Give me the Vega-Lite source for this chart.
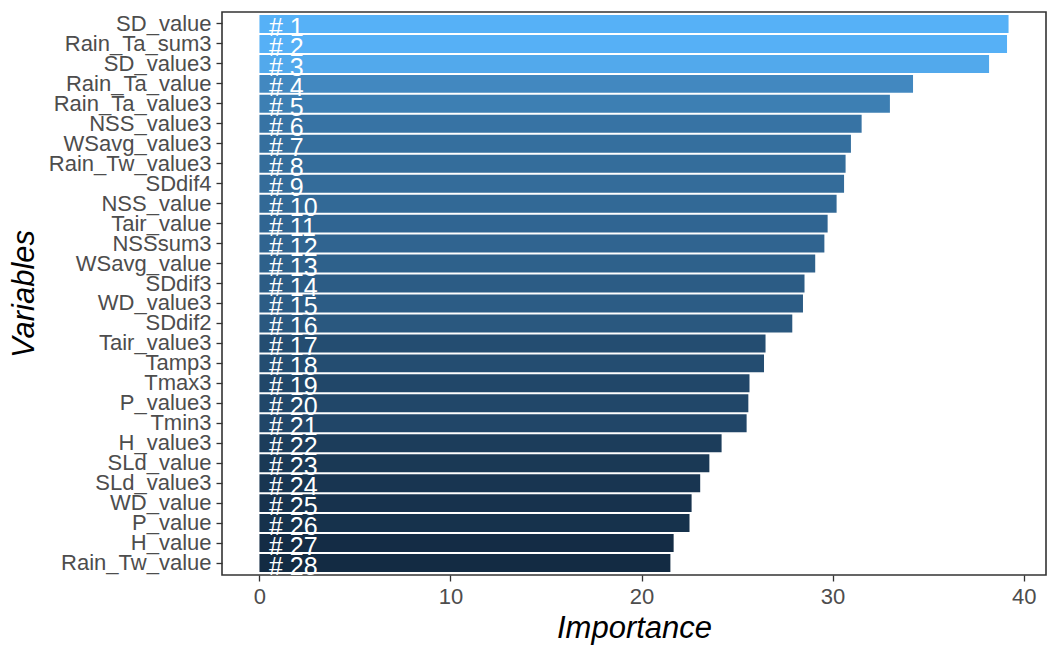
{
  "$schema": "https://vega.github.io/schema/vega-lite/v6.json",
  "width": 824,
  "height": 563,
  "autosize": "none",
  "padding": {"left": 222, "top": 12, "right": 12, "bottom": 82},
  "background": "white",
  "data": {
    "values": [
      {"var": "SD_value", "value": 39.21, "rank": 1, "label": "# 1"},
      {"var": "Rain_Ta_sum3", "value": 39.13, "rank": 2, "label": "# 2"},
      {"var": "SD_value3", "value": 38.19, "rank": 3, "label": "# 3"},
      {"var": "Rain_Ta_value", "value": 34.21, "rank": 4, "label": "# 4"},
      {"var": "Rain_Ta_value3", "value": 33.0, "rank": 5, "label": "# 5"},
      {"var": "NSS_value3", "value": 31.52, "rank": 6, "label": "# 6"},
      {"var": "WSavg_value3", "value": 30.96, "rank": 7, "label": "# 7"},
      {"var": "Rain_Tw_value3", "value": 30.68, "rank": 8, "label": "# 8"},
      {"var": "SDdif4", "value": 30.6, "rank": 9, "label": "# 9"},
      {"var": "NSS_value", "value": 30.21, "rank": 10, "label": "# 10"},
      {"var": "Tair_value", "value": 29.74, "rank": 11, "label": "# 11"},
      {"var": "NSSsum3", "value": 29.57, "rank": 12, "label": "# 12"},
      {"var": "WSavg_value", "value": 29.09, "rank": 13, "label": "# 13"},
      {"var": "SDdif3", "value": 28.53, "rank": 14, "label": "# 14"},
      {"var": "WD_value3", "value": 28.45, "rank": 15, "label": "# 15"},
      {"var": "SDdif2", "value": 27.89, "rank": 16, "label": "# 16"},
      {"var": "Tair_value3", "value": 26.49, "rank": 17, "label": "# 17"},
      {"var": "Tamp3", "value": 26.41, "rank": 18, "label": "# 18"},
      {"var": "Tmax3", "value": 25.65, "rank": 19, "label": "# 19"},
      {"var": "P_value3", "value": 25.59, "rank": 20, "label": "# 20"},
      {"var": "Tmin3", "value": 25.5, "rank": 21, "label": "# 21"},
      {"var": "H_value3", "value": 24.19, "rank": 22, "label": "# 22"},
      {"var": "SLd_value", "value": 23.55, "rank": 23, "label": "# 23"},
      {"var": "SLd_value3", "value": 23.07, "rank": 24, "label": "# 24"},
      {"var": "WD_value", "value": 22.62, "rank": 25, "label": "# 25"},
      {"var": "P_value", "value": 22.51, "rank": 26, "label": "# 26"},
      {"var": "H_value", "value": 21.68, "rank": 27, "label": "# 27"},
      {"var": "Rain_Tw_value", "value": 21.51, "rank": 28, "label": "# 28"}
    ]
  },
  "encoding": {
    "y": {
      "field": "var",
      "type": "nominal",
      "sort": {"field": "rank", "order": "ascending"},
      "scale": {"paddingInner": 0.1, "paddingOuter": 0.15},
      "title": "Variables",
      "axis": {"titlePadding": 8}
    }
  },
  "layer": [
    {
      "mark": {"type": "bar"},
      "encoding": {
        "x": {
          "field": "value",
          "type": "quantitative",
          "scale": {"domain": [-1.96, 41.17], "nice": false, "zero": false},
          "axis": {"values": [0, 10, 20, 30, 40], "title": "Importance", "titlePadding": 6},
          "title": "Importance"
        },
        "x2": {"datum": 0},
        "color": {
          "field": "value",
          "type": "quantitative",
          "scale": {"range": ["#132B43", "#56B1F7"], "interpolate": "lab", "zero": false, "nice": false},
          "legend": null
        }
      }
    },
    {
      "mark": {"type": "text", "align": "left", "baseline": "alphabetic", "dy": 12, "color": "white", "font": "Liberation Sans", "fontSize": 25},
      "encoding": {
        "x": {"datum": 0.5},
        "text": {"field": "label"}
      }
    }
  ],
  "config": {
    "view": {"stroke": "#333333", "strokeWidth": 1.6},
    "axis": {
      "domain": false,
      "grid": false,
      "tickColor": "#333333",
      "tickSize": 6,
      "tickWidth": 1.3,
      "labelColor": "#4D4D4D",
      "labelFont": "Liberation Sans",
      "labelFontSize": 22,
      "labelPadding": 5,
      "titleFont": "Liberation Sans",
      "titleFontSize": 31,
      "titleFontStyle": "italic",
      "titleFontWeight": "normal",
      "titleColor": "black"
    }
  }
}
